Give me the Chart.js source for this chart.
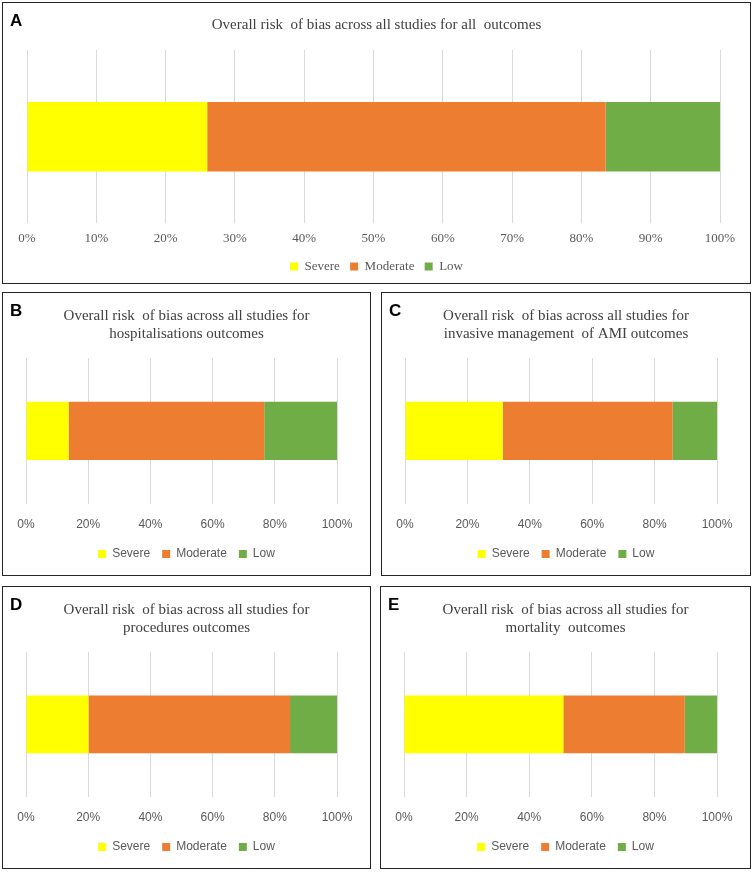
<!DOCTYPE html>
<html>
<head>
<meta charset="utf-8">
<script src="https://cdn.jsdelivr.net/npm/chart.js@4.4.1/dist/chart.umd.min.js"></script>
<style>
    html, body { margin: 0; padding: 0; background: #fff; }
    body { width: 753px; height: 872px; position: relative; overflow: hidden; }
    .panel { position: absolute; box-sizing: border-box; border: 1.5px solid #262626; background: #fff; }
    .panel canvas { position: absolute; left: 0; top: 0; }
    .letra { position: absolute; left: 7px; top: 8px; font: bold 17px "Liberation Sans", Arial, sans-serif; color: #000; z-index: 2; }
</style>
</head>
<body>
<div class="panel" id="pA" style="left:2px; top:2px; width:749px; height:282px;"><div class="letra">A</div><canvas id="chartA"></canvas></div>
<div class="panel" id="pB" style="left:2px; top:292px; width:369px; height:284px;"><div class="letra">B</div><canvas id="chartB"></canvas></div>
<div class="panel" id="pC" style="left:381px; top:292px; width:370px; height:284px;"><div class="letra">C</div><canvas id="chartC"></canvas></div>
<div class="panel" id="pD" style="left:2px; top:586px; width:369px; height:283px;"><div class="letra">D</div><canvas id="chartD"></canvas></div>
<div class="panel" id="pE" style="left:380px; top:586px; width:371px; height:283px;"><div class="letra">E</div><canvas id="chartE"></canvas></div>

<script>
// valores (porcentaje de estudios)
const categorias = ['Estudios'];
const niveles = ['Severe', 'Moderate', 'Low'];
const colores = ['#FFFF00', '#ED7D31', '#70AD47'];

const todosResultados = [26.0, 57.5, 16.5];
const hospitalizaciones = [13.7, 62.9, 23.4];
const manejoInvasivo = [31.3, 54.5, 14.2];
const procedimientos = [20.1, 64.8, 15.1];
const mortalidad = [50.9, 38.8, 10.3];

const ticksA = [0, 10, 20, 30, 40, 50, 60, 70, 80, 90, 100];
const ticksPaneles = [0, 20, 40, 60, 80, 100];

const titulos = {
    A: ['Overall risk  of bias across all studies for all  outcomes'],
    B: ['Overall risk  of bias across all studies for', 'hospitalisations outcomes'],
    C: ['Overall risk  of bias across all studies for', 'invasive management  of AMI outcomes'],
    D: ['Overall risk  of bias across all studies for', 'procedures outcomes'],
    E: ['Overall risk  of bias across all studies for', 'mortality  outcomes']
};

function crearGrafico(idCanvas, idPanel, valores, titulo, ticks, grande) {
    const panel = document.getElementById(idPanel);
    const canvas = document.getElementById(idCanvas);
    canvas.width = panel.clientWidth;
    canvas.height = panel.clientHeight;
    canvas.style.width = panel.clientWidth + 'px';
    canvas.style.height = panel.clientHeight + 'px';

    const fuenteEje = grande
        ? { family: '"Liberation Serif", serif', size: 13 }
        : { family: '"Liberation Sans", Arial, sans-serif', size: 12 };
    const espacios = grande ? ' ' : '   ';

    new Chart(canvas.getContext('2d'), {
        type: 'bar',
        data: {
            labels: categorias,
            datasets: niveles.map((nombre, i) => ({
                label: nombre,
                data: [valores[i]],
                backgroundColor: colores[i],
                borderWidth: 0,
                categoryPercentage: 1,
                barPercentage: 0.4
            }))
        },
        options: {
            indexAxis: 'y',
            responsive: false,
            animation: false,
            devicePixelRatio: 1,
            layout: { padding: { left: grande ? 24 : 23, right: grande ? 24 : 23, top: grande ? 6 : 7, bottom: grande ? 0 : 5 } },
            plugins: {
                title: {
                    display: true,
                    text: titulo,
                    color: '#404040',
                    font: { family: '"Liberation Serif", "Times New Roman", serif', size: 15, weight: 'normal', lineHeight: 1.2 },
                    padding: { top: 7, bottom: grande ? 16 : 15 }
                },
                legend: {
                    position: 'bottom',
                    labels: {
                        boxWidth: 8, boxHeight: 8, padding: grande ? 7 : 2,
                        color: '#595959',
                        font: fuenteEje,
                        // espacio entre elementos de la leyenda
                        generateLabels: (chart) => {
                            const items = Chart.defaults.plugins.legend.labels.generateLabels(chart);
                            return items.map((it, i) => ({ ...it, text: i < items.length - 1 ? it.text + espacios : it.text }));
                        }
                    }
                },
                tooltip: { enabled: false }
            },
            scales: {
                x: {
                    stacked: true,
                    min: 0, max: 100,
                    afterBuildTicks: (escala) => { escala.ticks = ticks.map(v => ({ value: v })); },
                    grid: { color: '#D9D9D9', lineWidth: 1, drawTicks: false },
                    border: { display: false },
                    ticks: {
                        color: '#595959',
                        font: fuenteEje,
                        padding: grande ? 7 : 14,
                        maxRotation: 0,
                        callback: (v) => v + '%'
                    }
                },
                y: {
                    stacked: true,
                    position: 'right',
                    ticks: { display: false },
                    grid: { display: false },
                    border: { display: false },
                    // margen derecho del area de trazado
                    afterFit: (escala) => { escala.width = grande ? 6 : 10; }
                }
            }
        }
    });
}

crearGrafico('chartA', 'pA', todosResultados, titulos.A, ticksA, true);
crearGrafico('chartB', 'pB', hospitalizaciones, titulos.B, ticksPaneles, false);
crearGrafico('chartC', 'pC', manejoInvasivo, titulos.C, ticksPaneles, false);
crearGrafico('chartD', 'pD', procedimientos, titulos.D, ticksPaneles, false);
crearGrafico('chartE', 'pE', mortalidad, titulos.E, ticksPaneles, false);
</script>
</body>
</html>
